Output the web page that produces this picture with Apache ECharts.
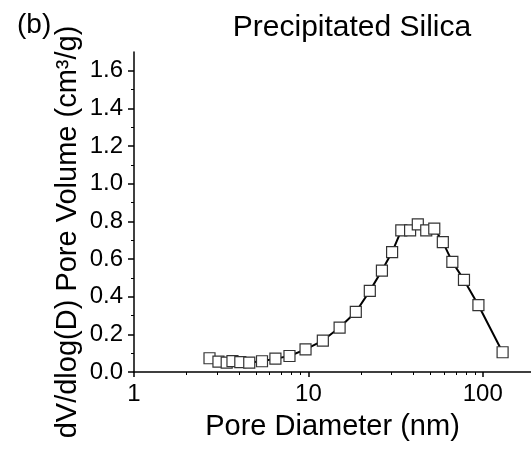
<!DOCTYPE html>
<html>
<head>
<meta charset="utf-8">
<script src="https://cdn.jsdelivr.net/npm/echarts@6/dist/echarts.min.js"></script>
<style>
  html, body { margin: 0; padding: 0; background: #fff; }
  #chart { width: 531px; height: 450px; }
</style>
</head>
<body>
<div id="chart"></div>
<script>
  // pore diameter (nm) and dV/dlog(D) (cm3/g)
  const diameter = [2.71, 3.05, 3.40, 3.67, 4.07, 4.58, 5.42, 6.47, 7.79, 9.63, 12.1, 15.1, 18.7, 22.5,
    26.4, 30.2, 34.1, 38.3, 42.4, 47.4, 52.7, 59.0, 66.9, 78.0, 94.4, 129.9];
  const poreVolume = [0.073, 0.055, 0.050, 0.058, 0.052, 0.050, 0.057, 0.071, 0.085, 0.120, 0.167, 0.236,
    0.319, 0.431, 0.539, 0.637, 0.752, 0.752, 0.784, 0.752, 0.762, 0.690, 0.585, 0.489, 0.355, 0.105];

  const xTicks = [1, 10, 100];
  const xMinorTicks = [2, 3, 4, 5, 6, 7, 8, 9, 20, 30, 40, 50, 60, 70, 80, 90];
  const yTicks = [0, 0.2, 0.4, 0.6, 0.8, 1.0, 1.2, 1.4, 1.6];

  const font = 'Liberation Sans, Arial, sans-serif';
  const chart = echarts.init(document.getElementById('chart'));

  chart.setOption({
    animation: false,
    title: [
      {
        text: '(b)',
        left: 12, top: 6,
        textStyle: { fontFamily: font, fontSize: 28, fontWeight: 'normal', color: '#000' }
      },
      {
        text: 'Precipitated Silica',
        left: 347, top: 8, textAlign: 'center',
        textStyle: { fontFamily: font, fontSize: 30, fontWeight: 'normal', color: '#000' }
      }
    ],
    graphic: [{
      type: 'text',
      x: 68, y: 232,
      rotation: Math.PI / 2,
      style: {
        text: 'dV/dlog(D) Pore Volume (cm³/g)',
        fontFamily: font, fontSize: 29, fill: '#000',
        align: 'center', verticalAlign: 'middle'
      }
    }],
    grid: { left: 134, right: 0, top: 52, bottom: 78 },
    xAxis: [
      {
        type: 'log', logBase: 10, min: 1, max: 189,
        name: 'Pore Diameter (nm)', nameLocation: 'middle', nameGap: 40,
        nameTextStyle: { fontFamily: font, fontSize: 29, color: '#000' },
        axisLine: { onZero: false, lineStyle: { color: '#000', width: 1.5 } },
        axisTick: { customValues: xTicks, length: 5, lineStyle: { color: '#000', width: 1.5 } },
        axisLabel: { customValues: xTicks, margin: 10, fontFamily: font, fontSize: 24, color: '#000' },
        splitLine: { show: false }
      },
      {
        type: 'log', logBase: 10, min: 1, max: 189, position: 'bottom',
        axisLine: { show: false },
        axisTick: { customValues: xMinorTicks, length: 3, lineStyle: { color: '#000', width: 1 } },
        axisLabel: { show: false },
        splitLine: { show: false }
      }
    ],
    yAxis: {
      type: 'value', min: 0, max: 1.7, interval: 0.2,
      axisLine: { show: true, lineStyle: { color: '#000', width: 1.5 } },
      axisTick: { show: true, customValues: yTicks, length: 6, lineStyle: { color: '#000', width: 1.5 } },
      minorTick: { show: true, splitNumber: 2, length: 3, lineStyle: { color: '#000', width: 1 } },
      axisLabel: {
        customValues: yTicks, margin: 11, fontFamily: font, fontSize: 24, color: '#000',
        formatter: v => v.toFixed(1)
      },
      splitLine: { show: false }
    },
    series: [{
      type: 'line',
      data: diameter.map((d, i) => [d, poreVolume[i]]),
      symbol: 'rect',
      symbolSize: 11,
      itemStyle: { color: '#fff', borderColor: '#333', borderWidth: 1.2 },
      lineStyle: { color: '#000', width: 2 },
      clip: false
    }]
  });
</script>
</body>
</html>
